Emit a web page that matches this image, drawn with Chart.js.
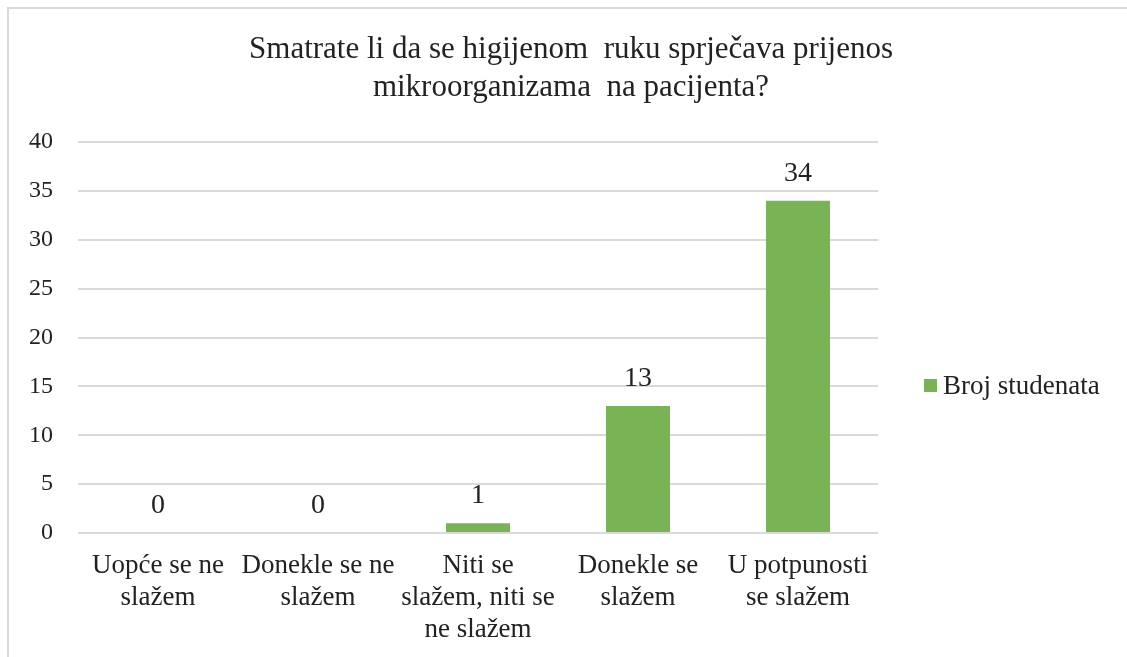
<!DOCTYPE html>
<html>
<head>
<meta charset="utf-8">
<script src="https://cdn.jsdelivr.net/npm/chart.js@4"></script>
<style>
  html, body { margin:0; padding:0; background:#fff; overflow:hidden; }
  #wrap { position:relative; width:1127px; height:657px; overflow:hidden; }
  #frame { position:absolute; left:7px; top:7px; width:1300px; height:800px; border:2px solid #d9d9d9; box-sizing:border-box; }
  canvas { position:absolute; left:0; top:0; }
  #legend { position:absolute; left:924px; top:370px; font:27px "Liberation Serif","Times New Roman",serif; color:#222; display:flex; align-items:center; white-space:nowrap; }
  #legend .swatch { width:13px; height:13px; margin-right:6px; }
</style>
</head>
<body>
<div id="wrap">
  <div id="frame"></div>
  <canvas id="chart" width="1127" height="657"></canvas>
  <div id="legend"></div>
</div>
<script>
const $ = id => document.getElementById(id);
const serif = '"Liberation Serif", "Times New Roman", serif';

const titleLines = ['Smatrate li da se higijenom  ruku sprječava prijenos', 'mikroorganizama  na pacijenta?'];
const categories = [
  ['Uopće se ne', 'slažem'],
  ['Donekle se ne', 'slažem'],
  ['Niti se', 'slažem, niti se', 'ne slažem'],
  ['Donekle se', 'slažem'],
  ['U potpunosti', 'se slažem']
];
const seriesName = 'Broj studenata';
const counts = [0, 0, 1, 13, 34];
const yTicks = [0, 5, 10, 15, 20, 25, 30, 35, 40];
const barColor = '#7ab356';

// value written above each bar
const valueLabels = {
  id: 'valueLabels',
  afterDatasetsDraw(chart) {
    const ctx = chart.ctx;
    ctx.save();
    ctx.font = `28px ${serif}`;
    ctx.fillStyle = '#222';
    ctx.textAlign = 'center';
    ctx.textBaseline = 'alphabetic';
    chart.getDatasetMeta(0).data.forEach((bar, i) => {
      ctx.fillText(String(counts[i]), bar.x, bar.y - 20);
    });
    ctx.restore();
  }
};

const chart = new Chart($('chart'), {
  type: 'bar',
  data: {
    labels: categories,
    datasets: [{
      label: seriesName,
      data: counts,
      backgroundColor: barColor,
      borderWidth: 0,
      barPercentage: 0.4,
      categoryPercentage: 1
    }]
  },
  options: {
    responsive: false,
    animation: false,
    layout: { padding: { left: 15, right: 0, top: 0, bottom: 0 } },
    plugins: {
      legend: { display: false },
      tooltip: { enabled: false },
      title: {
        display: true,
        text: titleLines,
        color: '#222',
        font: { family: serif, size: 31, weight: 'normal', lineHeight: 1.25 },
        padding: { top: 30, bottom: 34.5 }
      }
    },
    scales: {
      x: {
        grid: { display: false, drawTicks: false },
        border: { display: false },
        ticks: { color: '#222', font: { family: serif, size: 27, lineHeight: 32 / 27 }, padding: 17, maxRotation: 0, autoSkip: false },
        afterFit: s => { s.height = 124; }
      },
      y: {
        min: 0,
        max: 40,
        afterBuildTicks: s => { s.ticks = yTicks.map(v => ({ value: v })); },
        grid: { color: '#d9d9d9', lineWidth: 2, drawTicks: false },
        border: { display: false },
        ticks: { color: '#222', font: { family: serif, size: 24 }, padding: 25 },
        afterFit: s => { s.width = 63; }
      },
      // empty right-hand axis keeps room for the legend column
      legendSpace: {
        position: 'right',
        min: 0,
        max: 40,
        grid: { display: false, drawTicks: false },
        border: { display: false },
        ticks: { display: false },
        afterFit: s => { s.width = 249; }
      }
    }
  },
  plugins: [valueLabels]
});

// legend entry built from the dataset
chart.data.datasets.forEach(ds => {
  const item = document.createElement('div');
  item.style.display = 'flex';
  item.style.alignItems = 'center';
  item.innerHTML = `<span class="swatch" style="background:${ds.backgroundColor}"></span><span>${ds.label}</span>`;
  $('legend').appendChild(item);
});
</script>
</body>
</html>
